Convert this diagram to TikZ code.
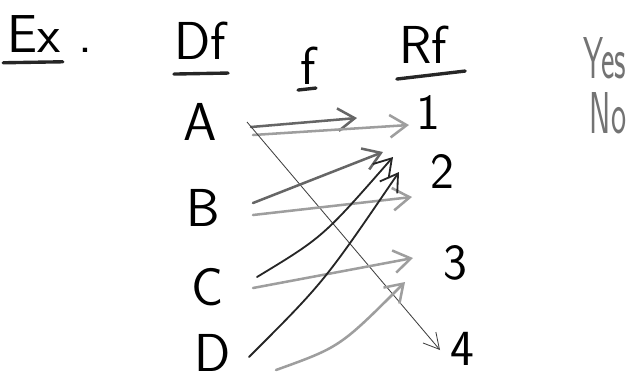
\documentclass[tikz,border=0pt]{standalone}
\usepackage{graphicx}
\usepackage{tikz}
\usetikzlibrary{calc,arrows.meta}

\tikzset{
  lbl/.style={inner sep=0pt, font=\sffamily\fontsize{38}{38}\selectfont},
  num/.style={inner sep=0pt, font=\sffamily\fontsize{36}{36}\selectfont},
  ans/.style={inner sep=0pt, text=black!55, font=\sffamily\fontsize{24}{24}\selectfont},
  uline/.style={line width=2.4pt, black!85, line cap=round},
  darkpen/.style={line width=1.3pt, black!85, line cap=round, -{Straight Barb[length=12pt,width=15pt]}},
  midpen/.style={line width=1.8pt, black!60, line cap=round, -{Straight Barb[length=12pt,width=16pt]}},
  lightpen/.style={line width=1.8pt, black!38, line cap=round, -{Straight Barb[length=12pt,width=16pt]}},
  thinpen/.style={line width=0.6pt, black!75, -{Straight Barb[length=11pt,width=12pt]}}
}

\begin{document}
\begin{tikzpicture}[x=0.025cm, y=-0.025cm]
	\useasboundingbox (0,0) rectangle (632,383);
	% headings
	\node[lbl] (ex) at (34,34) {Ex};
	\node[lbl] (exdot) at (85,50) {.};
	\node[lbl] (df) at (200,41) {Df};
	\node[lbl] (f) at (308,66) {f};
	\node[lbl] (rf) at (423,45) {Rf};
	\node[ans] (yes) at (605,58) {\scalebox{0.95}[1.75]{Yes}};
	\node[ans] (no) at (608,113) {\scalebox{0.95}[1.75]{No}};
	\draw[uline] ($(ex.south west)+(-4,10)$) -- ($(ex.south east)+(2,9)$);
	\draw[uline] ($(df.south west)+(0,14)$) -- ($(df.south east)+(2,13)$);
	\draw[uline] ($(f.south west)+(-2,5)$) -- ($(f.south east)+(0,3)$);
	\draw[uline] ($(rf.south west)+(-2,15)$) -- ($(rf.south east)+(18,7)$);
	% domain and range
	\node[lbl] (A) at (200,122) {A};
	\node[lbl] (B) at (203,208) {B};
	\node[lbl] (C) at (208,287) {C};
	\node[lbl] (D) at (213,353) {D};
	\node[num] (n1) at (428,112) {1};
	\node[num] (n2) at (442,171) {2};
	\node[num] (n3) at (455,263) {3};
	\node[num] (n4) at (462,349) {4};
	% the arrows of f
	\draw[midpen] ($(A)+(51,5)$) -- ($(n1)+(-71,6)$);
	\draw[lightpen] ($(A)+(53,13)$) -- ($(n1)+(-19,13)$);
	\draw[thinpen] ($(A)+(47,0)$) -- ($(n4)+(-22,1)$);
	\draw[midpen] ($(B)+(50,-5)$) -- ($(n2)+(-59,-19)$);
	\draw[lightpen] ($(B)+(50,7)$) -- ($(n2)+(-30,26)$);
	\draw[darkpen] ($(C)+(49,-10)$) .. controls ($(C)+(115,-50)$) .. ($(n2)+(-49,-14)$);
	\draw[lightpen] ($(C)+(45,1)$) -- ($(n3)+(-42,-5)$);
	\draw[darkpen] ($(D)+(36,4)$) .. controls ($(D)+(111,-71)$) .. ($(n2)+(-43,1)$);
	\draw[lightpen] ($(D)+(63,17)$) .. controls ($(D)+(127,-6)$) .. ($(n3)+(-50,19)$);
\end{tikzpicture}
\end{document}
